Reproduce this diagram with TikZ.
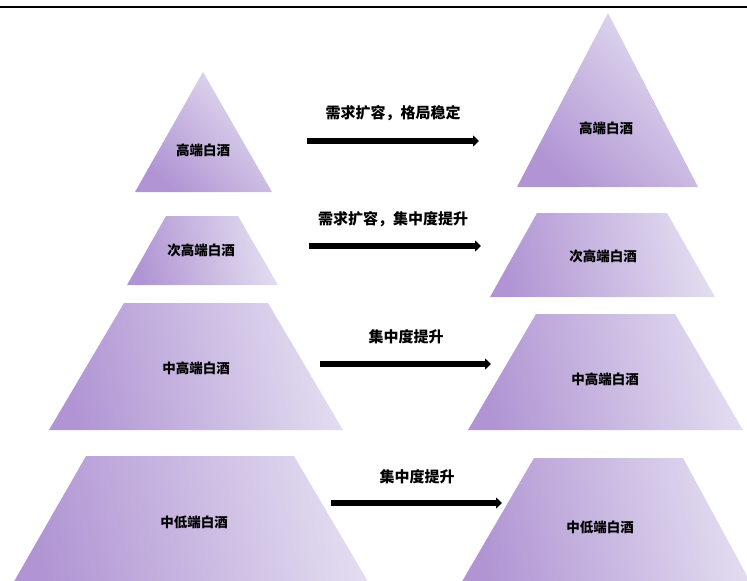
\documentclass[tikz,border=0pt]{standalone}
\usepackage{fontspec}
\newfontfamily\cjk{Noto Sans CJK SC}
\usetikzlibrary{arrows.meta}
\definecolor{pdark}{RGB}{176,148,211}
\definecolor{plight}{RGB}{227,221,240}
\tikzset{
  diag/.style={top color=plight, bottom color=pdark, shading angle=-45, draw=none},
  horiz/.style={top color=plight, bottom color=pdark, shading angle=-78, draw=none},
  lbl/.style={font=\cjk\bfseries\fontsize{13.5}{13.5}\selectfont, inner sep=0pt},
  albl/.style={font=\cjk\bfseries\fontsize{15}{15}\selectfont, inner sep=0pt},
  bigarrow/.style={line width=5.5pt, -{Triangle[length=6pt,width=11pt]}},
}
\begin{document}
\begin{tikzpicture}[x=1pt,y=-1pt]
\useasboundingbox (0,0) rectangle (747,581);
\begin{scope}
\clip (0,0) rectangle (747,581);
% top rule
\coordinate (ruleL) at (0,7.2);
\coordinate (ruleR) at (747,7.2);
\draw[line width=2.3pt] (ruleL) -- (ruleR);
% left column
\path[diag] (203,72) -- (272,192) -- (135,192) -- cycle;
\path[horiz] (166,216) -- (238,216) -- (278,285) -- (127,285) -- cycle;
\path[horiz] (124,303) -- (268,303) -- (343,430) -- (49,430) -- cycle;
\path[horiz] (86,456) -- (294,456) -- (370,585) -- (12,585) -- cycle;
% right column
\path[diag] (608,13) -- (698,187) -- (517,187) -- cycle;
\path[horiz] (537,213) -- (667,213) -- (715,297) -- (490,297) -- cycle;
\path[horiz] (536,314) -- (675,314) -- (743,430) -- (468,430) -- cycle;
\path[horiz] (534,458) -- (683,458) -- (752,585) -- (460,585) -- cycle;
\end{scope}
% labels in pyramids
\node[lbl] (l1) at (203,150) {高端白酒};
\node[lbl] (l2) at (201,250) {次高端白酒};
\node[lbl] (l3) at (196,368) {中高端白酒};
\node[lbl] (l4) at (194,522) {中低端白酒};
\node[lbl] (r1) at (606,128) {高端白酒};
\node[lbl] (r2) at (603,256) {次高端白酒};
\node[lbl] (r3) at (605,379) {中高端白酒};
\node[lbl] (r4) at (600,527) {中低端白酒};
% arrows
\coordinate (a1s) at (307,141); \coordinate (a1e) at (479,141);
\coordinate (a2s) at (309,246); \coordinate (a2e) at (481,246);
\coordinate (a3s) at (320,364); \coordinate (a3e) at (491,364);
\coordinate (a4s) at (331,503); \coordinate (a4e) at (502,503);
\draw[bigarrow] (a1s) -- (a1e);
\draw[bigarrow] (a2s) -- (a2e);
\draw[bigarrow] (a3s) -- (a3e);
\draw[bigarrow] (a4s) -- (a4e);
\node[albl] (t1) at (393,113) {需求扩容，格局稳定};
\node[albl] (t2) at (393,219) {需求扩容，集中度提升};
\node[albl] (t3) at (406,337) {集中度提升};
\node[albl] (t4) at (417,477) {集中度提升};
\end{tikzpicture}
\end{document}
